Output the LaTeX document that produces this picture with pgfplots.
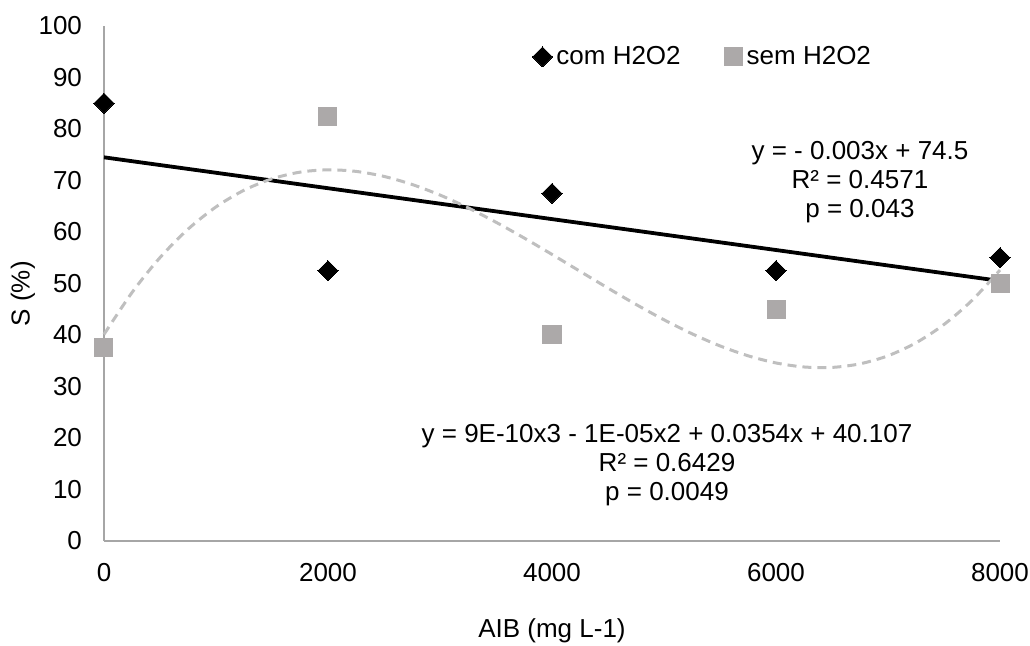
\documentclass[border=0pt]{standalone}
\usepackage{fontspec}
\setmainfont{Liberation Sans}
\usepackage{pgfplots}
\pgfplotsset{compat=1.18}
\definecolor{axgray}{RGB}{166,166,166}
\definecolor{sqgray}{RGB}{172,169,169}
\definecolor{dashgray}{RGB}{191,191,191}
\begin{document}
\begin{tikzpicture}[font=\fontsize{13}{15.6}\selectfont]
\path[use as bounding box] (0,0) rectangle (515pt,323pt);
\begin{axis}[
  at={(52pt,52.5pt)}, anchor=south west,
  scale only axis, width=448pt, height=257.5pt,
  xmin=0, xmax=8000, ymin=0, ymax=100,
  axis x line=bottom, axis y line=left,
  axis line style={draw=axgray, line width=1pt, -},
  xtick={0,2000,4000,6000,8000}, ytick={0,10,...,100},
  major tick length=0pt,
  /pgf/number format/assume math mode=true,
  scaled x ticks=false,
  x tick label style={/pgf/number format/1000 sep={}, yshift=-7.7pt},
  y tick label style={xshift=-7.5pt},
  clip=false,
  xlabel={AIB (mg L-1)},
  xlabel style={at={(axis description cs:0.5,-0.175)}, anchor=center},
  ylabel={S (\%)},
  ylabel style={at={(axis description cs:-0.0904,0.48)}, anchor=center},
  legend style={at={(axis description cs:0.4777,0.940)}, anchor=west, draw=none, fill=none,
    inner sep=0pt, legend columns=2,
    /tikz/every even column/.append style={column sep=19.5pt}},
  legend cell align=left,
  legend image code/.code={\path[draw=none] (0pt,0pt) -- (8pt,0pt); \draw[#1] plot coordinates {(5pt,0pt)};},
]
\addplot[only marks, mark=square*, mark size=3.54pt, mark options={rotate=45, fill=black, draw=black, line width=0pt}]
  coordinates {(0,85) (2000,52.5) (4000,67.5) (6000,52.5) (8000,55)};
\addlegendentry{com H2O2}
\addplot[only marks, color=sqgray, mark=square*, mark size=4.5pt, mark options={fill=sqgray, draw=sqgray, line width=0pt}]
  coordinates {(0,37.5) (2000,82.5) (4000,40) (6000,45) (8000,50)};
\addlegendentry{sem H2O2}
\addplot[black, line width=1.9pt, forget plot] coordinates {(0,74.5) (8000,50.5)};
\addplot[dashgray, line width=1.5pt, dash pattern=on 4.5pt off 3pt, smooth, forget plot] coordinates {
(0,40.107) (250,48.245) (500,55.028) (750,60.542) (1000,64.873) (1250,68.106) (1500,70.326)
(1750,71.620) (2000,72.072) (2250,71.767) (2500,70.792) (2750,69.232) (3000,67.172)
(3250,64.698) (3500,61.894) (3750,58.848) (4000,55.643) (4250,52.366) (4500,49.101)
(4750,45.935) (5000,42.953) (5250,40.240) (5500,37.882) (5750,35.964) (6000,34.572)
(6250,33.790) (6500,33.705) (6750,34.402) (7000,35.967) (7250,38.484) (7500,42.039)
(7750,46.719) (8000,52.607)};
\node[anchor=base] at (axis cs:6750,73.98) {y = - 0.003x + 74.5};
\node[anchor=base] at (axis cs:6750,68.35) {R² = 0.4571};
\node[anchor=base] at (axis cs:6750,62.72) {p = 0.043};
\node[anchor=base] at (axis cs:5027,19.03) {y = 9E-10x3 - 1E-05x2 + 0.0354x + 40.107};
\node[anchor=base] at (axis cs:5027,13.40) {R² = 0.6429};
\node[anchor=base] at (axis cs:5027,7.77) {p = 0.0049};
\end{axis}
\end{tikzpicture}
\end{document}
